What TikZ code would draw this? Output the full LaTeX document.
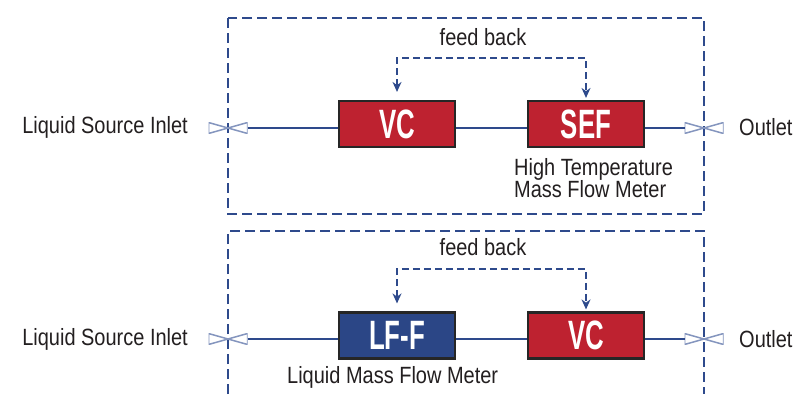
\documentclass[tikz,border=0pt]{standalone}
\usepackage{fontspec}
\setmainfont{Liberation Sans}[FakeStretch=0.85]
\newfontfamily\boxfont{Liberation Sans}[FakeStretch=0.63]
\usetikzlibrary{arrows.meta}
\definecolor{lineblue}{HTML}{2E4A8C}
\definecolor{boxred}{HTML}{BE2230}
\definecolor{boxblue}{HTML}{2B4686}
\definecolor{valvecol}{HTML}{8495BE}
\definecolor{txt}{HTML}{231F20}
\tikzset{
  unitbox/.style={draw=black!85, line width=2.2pt, minimum width=116pt, minimum height=46pt,
    inner sep=0pt, text=white, font=\boxfont\fontsize{41}{41}\bfseries\selectfont},
  redbox/.style={unitbox, fill=boxred},
  bluebox/.style={unitbox, fill=boxblue},
  valve/.style={minimum width=39pt, minimum height=11pt, inner sep=0pt, outer sep=0pt,
    path picture={\draw[valvecol, line width=1.5pt, line join=miter]
      (path picture bounding box.north west) -- (path picture bounding box.south east)
      -- (path picture bounding box.north east) -- (path picture bounding box.south west) -- cycle;}},
  flow/.style={lineblue, line width=1.8pt},
  frame/.style={lineblue, line width=1.8pt, dash pattern=on 10pt off 5pt},
  fb/.style={lineblue, line width=1.5pt, dash pattern=on 7pt off 4pt,
    {Stealth[length=10pt,width=9pt]}-{Stealth[length=10pt,width=9pt]}},
  lbl/.style={text=txt, inner sep=0pt, font=\fontsize{23.5}{23.5}\selectfont},
}
\begin{document}
\begin{tikzpicture}[x=1pt,y=-1pt]
\useasboundingbox[fill=white] (0,0) rectangle (794,394);

% frames
\coordinate (f1a) at (228,18);
\coordinate (f1b) at (704,214);
\draw[frame] (f1a) rectangle (f1b);
\coordinate (f2a) at (228,394);
\coordinate (f2b) at (228,231);
\coordinate (f2c) at (704,231);
\coordinate (f2d) at (704,394);
\draw[frame] (f2a) -- (f2b) -- (f2c) -- (f2d);

% top row
\node[redbox] (vc1) at (397,124) {VC};
\node[redbox] (sef1) at (586,124) {SEF};
\node[valve] (in1) at (228,128) {};
\node[valve] (out1) at (704,128) {};
\draw[flow] (in1.east) -- (vc1.west |- in1.east);
\draw[flow] (vc1.east |- in1.east) -- (sef1.west |- in1.east);
\draw[flow] (sef1.east |- in1.east) -- (out1.west);
\coordinate (fbt1) at (492,58);
\draw[fb] ([yshift=8pt]vc1.north) |- (fbt1) -| ([yshift=2pt]sef1.north);
\node[lbl, anchor=base] (fbl1) at (483,45) {feed back};
\node[lbl, anchor=east] (inl1) at (188,127) {Liquid Source Inlet};
\node[lbl, anchor=west] (outl1) at (739,127) {Outlet};
\node[lbl, anchor=base west] (ht1) at (514,175) {High Temperature};
\node[lbl, anchor=base west] (ht2) at (514,197) {Mass Flow Meter};

% bottom row
\node[bluebox] (lff2) at (397,335.5) {LF-F};
\node[redbox] (vc2) at (586,335.5) {VC};
\node[valve] (in2) at (228,339) {};
\node[valve] (out2) at (704,339) {};
\draw[flow] (in2.east) -- (lff2.west |- in2.east);
\draw[flow] (lff2.east |- in2.east) -- (vc2.west |- in2.east);
\draw[flow] (vc2.east |- in2.east) -- (out2.west);
\coordinate (fbt2) at (492,269);
\draw[fb] ([yshift=8pt]lff2.north) |- (fbt2) -| ([yshift=2pt]vc2.north);
\node[lbl, anchor=base] (fbl2) at (483,255) {feed back};
\node[lbl, anchor=east] (inl2) at (188,339) {Liquid Source Inlet};
\node[lbl, anchor=west] (outl2) at (739,339) {Outlet};
\node[lbl, anchor=base west] (lm2) at (287,383) {Liquid Mass Flow Meter};
\end{tikzpicture}
\end{document}
